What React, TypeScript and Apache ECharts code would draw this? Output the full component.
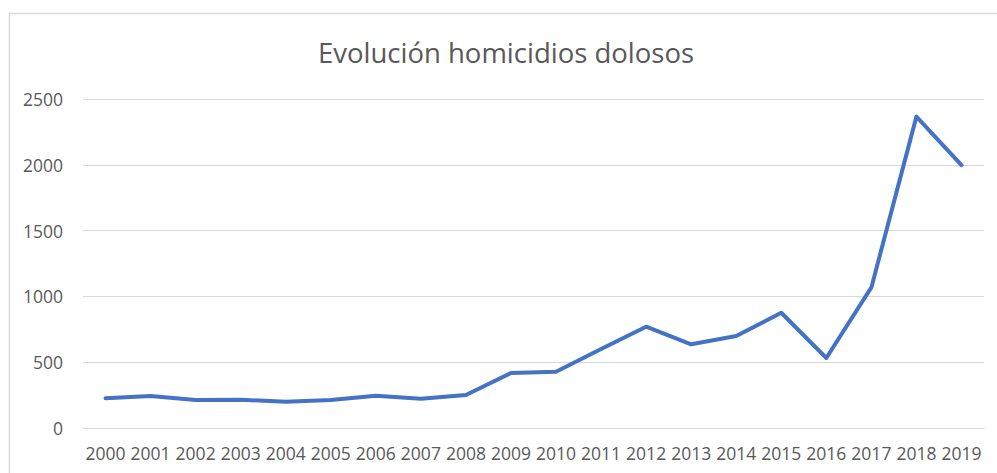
import React, { useEffect, useRef } from "react";
import * as echarts from "echarts";

const titleText = "Evolución homicidios dolosos";
const years = ["2000","2001","2002","2003","2004","2005","2006","2007","2008","2009","2010","2011","2012","2013","2014","2015","2016","2017","2018","2019"];
const homicidios = [226, 243, 213, 215, 200, 213, 245, 222, 251, 418, 428, 600, 770, 636, 699, 876, 532, 1068, 2366, 1998];
const yMin = 0;
const yMax = 2500;
const yInterval = 500;

const FONT = "'Open Sans', sans-serif";
const TEXT_COLOR = "#595959";
const GRID_COLOR = "#d9d9d9";

export default function App() {
  const ref = useRef<HTMLDivElement>(null);
  useEffect(() => {
    if (!ref.current) return;
    const chart = echarts.init(ref.current, null, { renderer: "svg" });
    chart.setOption({
      animation: false,
      backgroundColor: "#ffffff",
      grid: { left: 83, right: 13, top: 99, bottom: 45, containLabel: false },
      graphic: [
        {
          type: "rect",
          shape: { x: 9.5, y: 13.5, width: 1000, height: 500 },
          style: { fill: "none", stroke: GRID_COLOR, lineWidth: 1.5 },
          silent: true,
        },
        {
          type: "text",
          x: 506,
          y: 52,
          style: {
            text: titleText,
            font: `27.5px ${FONT}`,
            fill: TEXT_COLOR,
            textAlign: "center",
            textVerticalAlign: "middle",
          },
          silent: true,
        },
      ],
      xAxis: {
        type: "category",
        data: years,
        boundaryGap: true,
        axisLine: { show: true, lineStyle: { color: GRID_COLOR, width: 1 } },
        axisTick: { show: false },
        axisLabel: {
          color: TEXT_COLOR,
          fontFamily: FONT,
          fontSize: 17.5,
          margin: 16,
          interval: 0,
        },
      },
      yAxis: {
        type: "value",
        min: yMin,
        max: yMax,
        interval: yInterval,
        axisLine: { show: false },
        axisTick: { show: false },
        splitLine: { show: true, lineStyle: { color: GRID_COLOR, width: 1 } },
        axisLabel: {
          color: TEXT_COLOR,
          fontFamily: FONT,
          fontSize: 17.5,
          margin: 20,
          formatter: (v: number) => String(v),
        },
      },
      series: [
        {
          type: "line",
          data: homicidios,
          showSymbol: false,
          smooth: false,
          lineStyle: { color: "#4472C4", width: 4, cap: "round", join: "round" },
          itemStyle: { color: "#4472C4" },
        },
      ],
    });
    return () => chart.dispose();
  }, []);
  return (
    <div
      ref={ref}
      style={{ position: "fixed", left: 0, top: 0, width: 997, height: 473, background: "#fff" }}
    />
  );
}
